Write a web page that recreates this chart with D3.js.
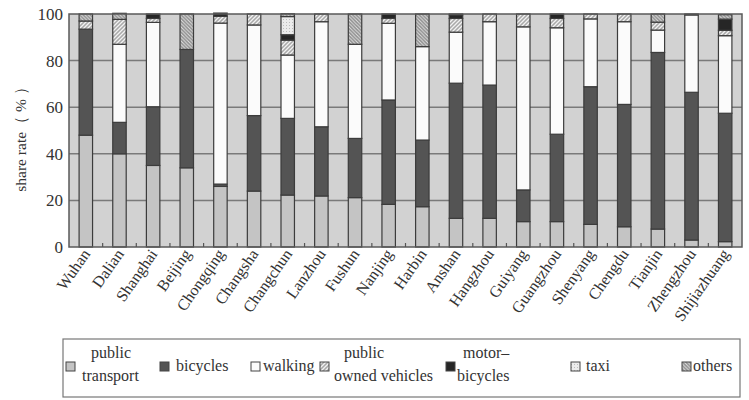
<!DOCTYPE html>
<html><head><meta charset="utf-8">
<script src="https://cdn.jsdelivr.net/npm/d3@7/dist/d3.min.js"></script>
<style>body{margin:0;background:#fff}svg{display:block}</style>
</head><body><svg id="c" width="749" height="400" font-family="'Liberation Serif','Times New Roman',serif"></svg>
<script>
const cities = ["Wuhan","Dalian","Shanghai","Beijing","Chongqing","Changsha","Changchun","Lanzhou","Fushun","Nanjing","Harbin","Anshan","Hangzhou","Guiyang","Guangzhou","Shenyang","Chengdu","Tianjin","Zhengzhou","Shijiazhuang"];
const publicTransport = [48,40,35,34,26,24,22.3,21.9,21.2,18.3,17.3,12.3,12.3,10.9,10.9,9.7,8.7,7.7,3,2.3];
const bicycles = [45.5,13.5,25.2,50.8,1,32.4,32.9,29.7,25.4,44.8,28.6,58,57.2,13.6,37.5,59.1,52.5,75.8,63.4,55.1];
const walking = [0,33.5,36.2,0,69.1,38.9,27.2,45.1,40.4,32.9,40.1,21.9,27.2,70,45.7,29.1,35.5,9.6,33.2,33.3];
const publicOwned = [3.5,10.7,1.7,0,2.9,4.7,6.4,3.3,0,2.1,0,5.9,3.3,5.5,4,2.1,3.3,3.4,0,2.3];
const motorBicycles = [0,0,1.9,0,1.4,0,2.3,0,0,1.9,0,1.5,0,0,1.9,0,0,0,0.4,4.8];
const taxi = [0,0,0,0,0,0,7.8,0,0,0,0,0,0,0,0,0,0,0,0,0];
const others = [3,2.6,0,15.2,0,0,1.2,0,13,0,14,0.4,0,0,0,0,0,3.5,0,1.9];
const yTicks = [0,20,40,60,80,100];
const seriesNames = ["public transport","bicycles","walking","public owned vehicles","motor-bicycles","taxi","others"];

(function(){
const svg = d3.select("#c");
const defs = svg.append("defs");
function hatch(id, bg, line, dir, size, w){
  const p = defs.append("pattern").attr("id",id).attr("patternUnits","userSpaceOnUse").attr("width",size).attr("height",size);
  p.append("rect").attr("width",size).attr("height",size).attr("fill",bg);
  const d = dir>0 ? `M0,${size} L${size},0 M${-size/2},${size/2} L${size/2},${-size/2} M${size/2},${size*1.5} L${size*1.5},${size/2}`
                  : `M0,0 L${size},${size} M${-size/2},${size/2} L${size/2},${size*1.5} M${size/2},${-size/2} L${size*1.5},${size/2}`;
  p.append("path").attr("d",d).attr("stroke",line).attr("stroke-width",w);
}
hatch("pOwned","#a9a9a9","#f2f2f2",1,4,1.3);
hatch("pOthers","#8e8e8e","#e0e0e0",-1,3.5,1);
const dots = defs.append("pattern").attr("id","pTaxi").attr("patternUnits","userSpaceOnUse").attr("width",3).attr("height",3);
dots.append("rect").attr("width",3).attr("height",3).attr("fill","#ececec");
dots.append("rect").attr("x",1).attr("y",1).attr("width",1).attr("height",1).attr("fill","#bdbdbd");

const fills = ["#c4c4c4","#545454","#fbfbfb","url(#pOwned)","#262626","url(#pTaxi)","url(#pOthers)"];
const seriesData = [publicTransport,bicycles,walking,publicOwned,motorBicycles,taxi,others];
const txt = "#333";

const pL=69, pR=742, pT=14, pB=247;
const x = d3.scaleBand().domain(cities).range([pL,pR]).paddingInner(0.6).paddingOuter(0.3);
const y = d3.scaleLinear().domain([0,100]).range([pB,pT]);

svg.append("rect").attr("x",pL).attr("y",pT).attr("width",pR-pL).attr("height",pB-pT).attr("fill","#d2d2d2");
svg.append("g").selectAll("line").data(yTicks.filter(d=>d>0&&d<100)).join("line")
  .attr("x1",pL).attr("x2",pR).attr("y1",d=>y(d)).attr("y2",d=>y(d))
  .attr("stroke","#7a7a7a").attr("stroke-width",1.5);

const table = cities.map((c,i)=>{const o={city:c}; seriesNames.forEach((s,j)=>o[s]=seriesData[j][i]); return o;});
const stack = d3.stack().keys(seriesNames)(table);
svg.append("g").selectAll("g").data(stack).join("g")
  .attr("fill",(d,i)=>fills[i])
  .selectAll("rect").data(d=>d.filter(v=>v[1]-v[0]>0)).join("rect")
  .attr("x",d=>x(d.data.city)).attr("width",x.bandwidth())
  .attr("y",d=>y(d[1])).attr("height",d=>y(d[0])-y(d[1]))
  .attr("stroke","#3c3c3c").attr("stroke-width",1.2);

svg.append("rect").attr("x",pL).attr("y",pT).attr("width",pR-pL).attr("height",pB-pT)
  .attr("fill","none").attr("stroke","#5a5a5a").attr("stroke-width",1.5);

const step = x.step();
svg.append("g").selectAll("line").data(cities.slice(1)).join("line")
  .attr("x1",d=>x(d)-step*x.paddingInner()/2).attr("x2",d=>x(d)-step*x.paddingInner()/2)
  .attr("y1",pB).attr("y2",pB-4).attr("stroke","#555").attr("stroke-width",1.2);

svg.append("g").selectAll("text").data(yTicks).join("text")
  .attr("x",pL-6).attr("y",d=>y(d)).attr("dy","0.35em").attr("text-anchor","end")
  .attr("font-size",17).attr("fill",txt).text(d=>d);

svg.append("text").attr("transform",`translate(26,${(pT+pB)/2+5}) rotate(-90)`)
  .attr("text-anchor","middle").attr("font-size",15.5).attr("fill",txt).text("share rate（ % ）");

svg.append("g").selectAll("text").data(cities).join("text")
  .attr("transform",d=>`translate(${x(d)+x.bandwidth()/2+5},${pB+7}) rotate(-55)`)
  .attr("text-anchor","end").attr("font-size",16).attr("fill",txt).text(d=>d);

const lg = svg.append("g");
lg.append("rect").attr("x",63).attr("y",339).attr("width",677).attr("height",58).attr("fill","#fff").attr("stroke","#777").attr("stroke-width",1.2);
const legendItems = [
  {sx:66, lines:["public","transport"], tx:[91,82]},
  {sx:160, lines:["bicycles"], tx:[176]},
  {sx:251, lines:["walking"], tx:[263]},
  {sx:320, lines:["public","owned vehicles"], tx:[344,334]},
  {sx:446, lines:["motor–","bicycles"], tx:[463,457]},
  {sx:571, lines:["taxi"], tx:[586]},
  {sx:682, lines:["others"], tx:[693]}
];
legendItems.forEach((it,i)=>{
  lg.append("rect").attr("x",it.sx).attr("y",362).attr("width",9).attr("height",9)
    .attr("fill",fills[i]).attr("stroke","#444").attr("stroke-width",1);
  if(it.lines.length===1){
    lg.append("text").attr("x",it.tx[0]).attr("y",371).attr("font-size",16).attr("fill",txt).text(it.lines[0]);
  } else {
    lg.append("text").attr("x",it.tx[0]).attr("y",358).attr("font-size",16).attr("fill",txt).text(it.lines[0]);
    lg.append("text").attr("x",it.tx[1]).attr("y",381).attr("font-size",16).attr("fill",txt).text(it.lines[1]);
  }
});
})();
</script></body></html>
